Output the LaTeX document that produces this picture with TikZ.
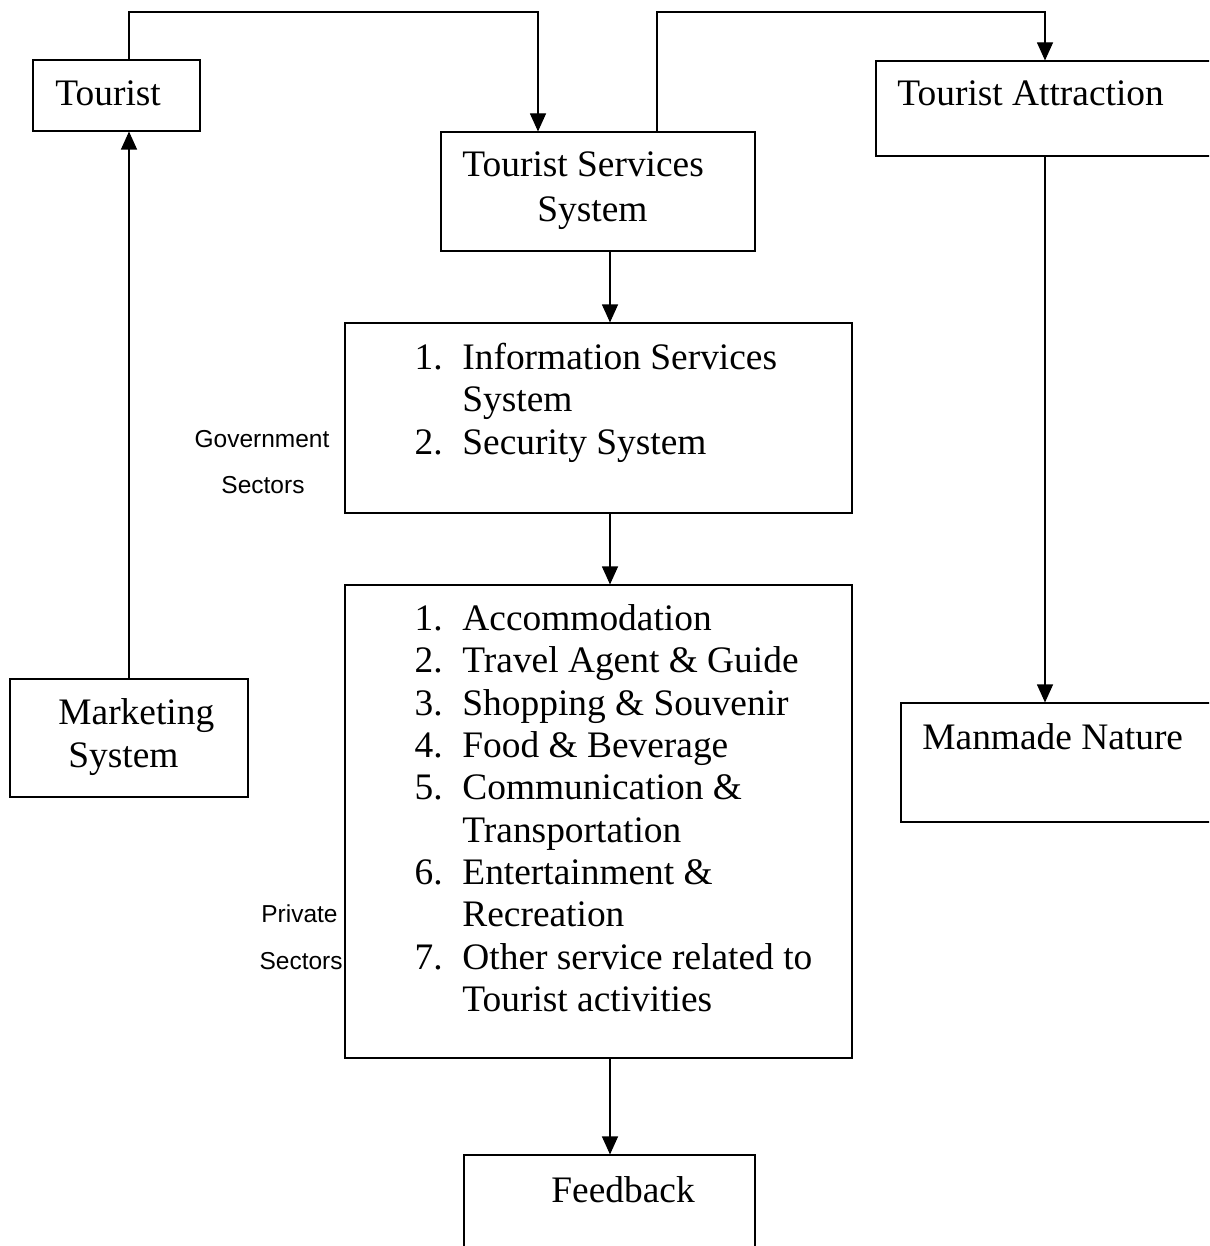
\documentclass[tikz,border=0pt]{standalone}
\usepackage{fontspec}
\setmainfont{Liberation Serif}
\newfontfamily\sidefont{Liberation Sans}
\usetikzlibrary{arrows.meta,fit}

\begin{document}
\begin{tikzpicture}[x=0.5pt,y=-0.5pt,
    box/.style={draw, line width=0.55pt, inner sep=0pt},
    txt/.style={anchor=base west, inner sep=0pt, font=\fontsize{18.7}{21.25}\selectfont},
    num/.style={txt, anchor=base east},
    side/.style={anchor=base, inner sep=0pt, font=\sidefont\fontsize{12.25}{14}\selectfont},
    arr/.style={line width=0.55pt, -{Triangle[width=8pt,length=9pt]}}]
    \clip (0,0) rectangle (1209,1246);
    % boxes
    \node[box, fit={(33,60) (200,131)}] (tourist) {};
    \node[box, fit={(441,132) (755,251)}] (tss) {};
    \node[box, fit={(876,61) (1240,156)}] (attr) {};
    \node[box, fit={(901,703) (1240,822)}] (manmade) {};
    \node[box, fit={(345,323) (852,513)}] (gov) {};
    \node[box, fit={(345,585) (852,1058)}] (priv) {};
    \node[box, fit={(10,679) (248,797)}] (mkt) {};
    \node[box, fit={(464,1155) (755,1270)}] (feedback) {};
    % texts
    \node[txt] (tourlbl) at (55,106) {Tourist};
    \node[txt] (tsslbla) at (462,177) {Tourist Services};
    \node[txt] (tsslblb) at (537,221) {System};
    \node[txt] (attrlbl) at (897,106) {Tourist Attraction};
    \node[txt] (manlbl) at (922,749) {Manmade Nature};
    \node[txt] (mktlbla) at (58,724) {Marketing};
    \node[txt] (mktlblb) at (68,767) {System};
    \node[txt] (fblbl) at (551,1202) {Feedback};
    % government list
    \node[num] (gn1) at (443,369) {1.};
    \node[txt] (gi1) at (462,369) {Information Services};
    \node[txt] (gi1b) at (462,411) {System};
    \node[num] (gn2) at (443,454) {2.};
    \node[txt] (gi2) at (462,454) {Security System};
    % private list
    \node[num] (pn1) at (443,630) {1.};
    \node[txt] (pi1) at (462,630) {Accommodation};
    \node[num] (pn2) at (443,672) {2.};
    \node[txt] (pi2) at (462,672) {Travel Agent \& Guide};
    \node[num] (pn3) at (443,715) {3.};
    \node[txt] (pi3) at (462,715) {Shopping \& Souvenir};
    \node[num] (pn4) at (443,757) {4.};
    \node[txt] (pi4) at (462,757) {Food \& Beverage};
    \node[num] (pn5) at (443,799) {5.};
    \node[txt] (pi5) at (462,799) {Communication \&};
    \node[txt] (pi5b) at (462,842) {Transportation};
    \node[num] (pn6) at (443,884) {6.};
    \node[txt] (pi6) at (462,884) {Entertainment \&};
    \node[txt] (pi6b) at (462,926) {Recreation};
    \node[num] (pn7) at (443,969) {7.};
    \node[txt] (pi7) at (462,969) {Other service related to};
    \node[txt] (pi7b) at (462,1011) {Tourist activities};
    % sector labels
    \node[side] (govlbla) at (262,447) {Government};
    \node[side] (govlblb) at (263,493) {Sectors};
    \node[side, anchor=base east] (privlbla) at (338,922) {Private};
    \node[side, anchor=base east] (privlblb) at (343,969) {Sectors};
    % connectors
    \coordinate (ja) at (538,12);
    \coordinate (jb) at (657,12);
    \coordinate (jc) at (1045,12);
    \coordinate (mid) at (610,0);
    \draw[arr] (mkt.north) -- (tourist.south -| mkt.north);
    \draw[arr] (tourist.north -| mkt.north) |- (ja) -- (ja |- tss.north);
    \draw[arr] (jb |- tss.north) -- (jb) -- (jc) -- (jc |- attr.north);
    \draw[arr] (jc |- attr.south) -- (jc |- manmade.north);
    \draw[arr] (mid |- tss.south) -- (mid |- gov.north);
    \draw[arr] (mid |- gov.south) -- (mid |- priv.north);
    \draw[arr] (mid |- priv.south) -- (mid |- feedback.north);
\end{tikzpicture}
\end{document}
